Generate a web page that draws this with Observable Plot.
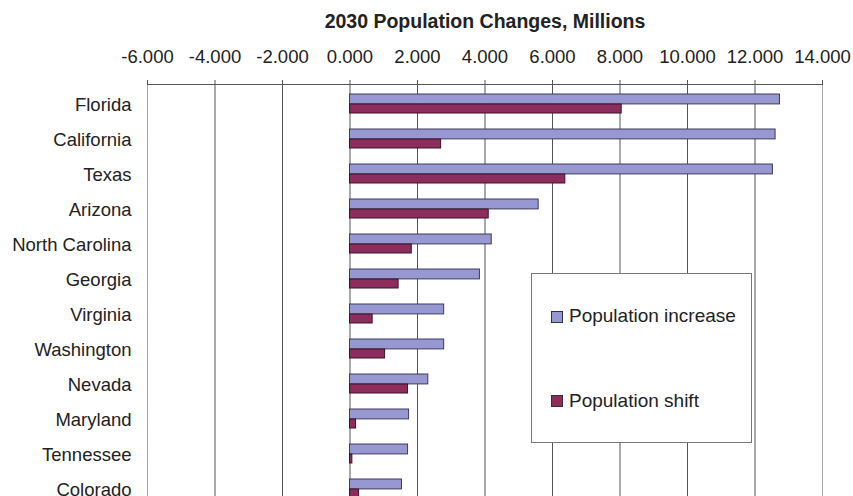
<!DOCTYPE html>
<html>
<head>
<meta charset="utf-8">
<script src="https://cdn.jsdelivr.net/npm/d3@7"></script>
<script src="https://cdn.jsdelivr.net/npm/@observablehq/plot@0.6"></script>
<style>
  html, body { margin: 0; padding: 0; background: #fff; }
  #wrap { position: relative; width: 853px; height: 496px; overflow: hidden; font-family: "Liberation Sans", Arial, sans-serif; }
  #legend { position: absolute; left: 531px; top: 273px; width: 219px; height: 168px; border: 1px solid #777; background: #fff; }
  .sw { position: absolute; width: 10px; height: 10px; border: 1px solid #333; }
  .lt { position: absolute; font-size: 19px; line-height: 19px; color: #222; white-space: nowrap; }
</style>
</head>
<body>
<div id="wrap"></div>
<script>
const title = "2030 Population Changes, Millions";
const states = ["Florida", "California", "Texas", "Arizona", "North Carolina", "Georgia",
  "Virginia", "Washington", "Nevada", "Maryland", "Tennessee", "Colorado"];
const increase = [12.74, 12.61, 12.53, 5.59, 4.20, 3.85, 2.79, 2.79, 2.32, 1.75, 1.72, 1.54];
const shift    = [8.05, 2.70, 6.38, 4.11, 1.83, 1.44, 0.67, 1.04, 1.72, 0.18, 0.07, 0.27];
const xTicks = [-6, -4, -2, 0, 2, 4, 6, 8, 10, 12, 14];
const xTickLabels = ["-6.000", "-4.000", "-2.000", "0.000", "2.000", "4.000", "6.000", "8.000", "10.000", "12.000", "14.000"];
const seriesNames = ["Population increase", "Population shift"];
const seriesColors = ["#9797d2", "#8c2d5e"];

const data = states.map((s, i) => ({state: s, increase: increase[i], shift: shift[i]}));
const labelOf = new Map(xTicks.map((t, i) => [t, xTickLabels[i]]));

const chart = Plot.plot({
  width: 853,
  height: 510,
  marginTop: 84,
  marginLeft: 147,
  marginRight: 31,
  marginBottom: 5,
  style: {fontFamily: "'Liberation Sans', Arial, sans-serif", color: "#222", background: "transparent", overflow: "visible"},
  x: {domain: [xTicks[0], xTicks[xTicks.length - 1]]},
  y: {domain: states, padding: 0, label: null},
  marks: [
    Plot.gridX({ticks: xTicks.slice(1, -1), stroke: "#555", strokeOpacity: 1}),
    Plot.ruleX([xTicks[0], xTicks[xTicks.length - 1]], {stroke: "#aaa"}),
    Plot.frame({anchor: "top", stroke: "#555"}),
    Plot.axisX({anchor: "top", ticks: xTicks, tickFormat: d => labelOf.get(d), tickSize: 5, tickPadding: 17, fontSize: 18.5, label: null, stroke: "#555"}),
    Plot.axisY({tickSize: 0, tickPadding: 16, fontSize: 18.5, dy: 2, label: null}),
    Plot.barX(data, {y: "state", x: "increase", fill: seriesColors[0], stroke: "#3c3c5c", strokeWidth: 1, insetTop: 9, insetBottom: 16.1}),
    Plot.barX(data, {y: "state", x: "shift", fill: seriesColors[1], stroke: "#3a1426", strokeWidth: 1, insetTop: 19, insetBottom: 7}),
    Plot.text([title], {frameAnchor: "top", dy: -70, fontSize: 19.5, fontWeight: "bold", fill: "#222"})
  ]
});

const wrap = document.getElementById("wrap");
wrap.appendChild(chart);

const legend = document.createElement("div");
legend.id = "legend";
wrap.appendChild(legend);
const rows = [{sw: 37, tx: 32}, {sw: 121, tx: 117}];
seriesNames.forEach((name, i) => {
  const sw = document.createElement("div");
  sw.className = "sw";
  sw.style.left = "19px";
  sw.style.top = rows[i].sw + "px";
  sw.style.background = seriesColors[i];
  legend.appendChild(sw);
  const t = document.createElement("div");
  t.className = "lt";
  t.style.left = "37px";
  t.style.top = rows[i].tx + "px";
  t.textContent = name;
  legend.appendChild(t);
});
</script>
</body>
</html>
